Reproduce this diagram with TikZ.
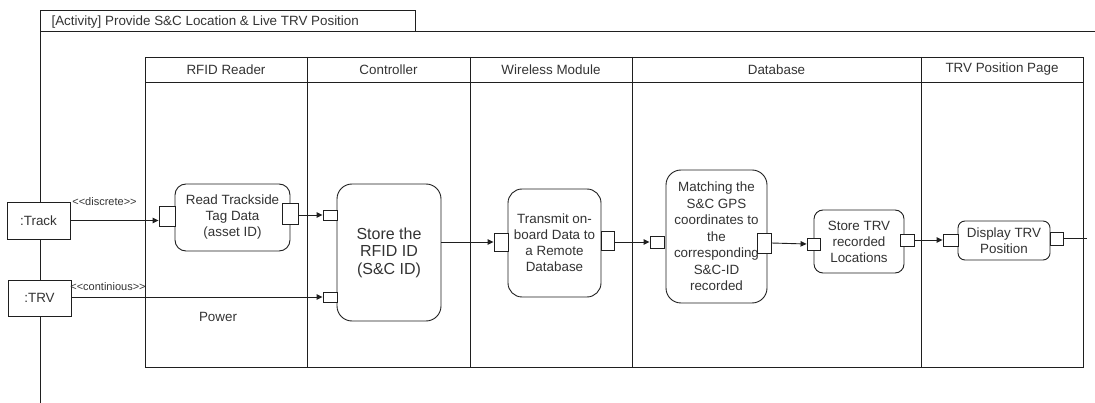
\documentclass[tikz,border=0pt]{standalone}
\usepackage{fontspec}
\setmainfont{Liberation Sans}
\usetikzlibrary{arrows.meta,calc}
\definecolor{ink}{HTML}{333333}
\definecolor{edge}{HTML}{1F1F1F}
\begin{document}
\begin{tikzpicture}[x=1pt,y=-1pt,
  every node/.style={text=ink, font=\fontsize{13.4}{16}\selectfont},
  frameline/.style={draw=edge, line width=0.9pt},
  action/.style={draw=edge, fill=white, line width=0.9pt, align=center,
    inner sep=0pt, rounded corners=#1},
  action/.default=10pt,
  pin/.style={draw=edge, fill=white, line width=0.9pt, inner sep=0pt},
  part/.style={draw=edge, fill=white, line width=0.9pt, inner sep=0pt,
    minimum width=63pt},
  flow/.style={draw=edge, line width=0.9pt, -{Triangle[length=6pt,width=5.5pt]}},
  plain/.style={draw=edge, line width=0.9pt},
  stereo/.style={font=\fontsize{11}{13}\selectfont},
  lanehead/.style={font=\fontsize{13.4}{16}\selectfont}]
\useasboundingbox (0,0) rectangle (1095,403);

% activity frame with its name tab
\draw[frameline] (40,403) -- (40,10) -- (415,10) -- (415,31.5);
\draw[frameline] (40,31.5) -- (1095,31.5);
\node[anchor=west] (title) at (48,22) {[Activity] Provide S\&C Location \& Live TRV Position};

% swimlanes
\draw[frameline] (145,57) rectangle (1083,367);
\draw[frameline] (145,82) -- (1083,82);
\foreach \x in {307,470,632,921} \draw[frameline] (\x,57) -- (\x,367);
\node[lanehead] (laneA) at (226,69.5) {RFID Reader};
\node[lanehead] (laneB) at (388.5,69.5) {Controller};
\node[lanehead] (laneC) at (551,69.5) {Wireless Module};
\node[lanehead] (laneD) at (776.5,69.5) {Database};
\node[lanehead] (laneE) at (1002,69.5) {TRV Position Page};

% external parts sitting on the frame border
\node[part, minimum height=37pt] (track) at (38.5,220.5) {:Track};
\node[part, minimum height=36pt] (trv) at (39.5,298) {:TRV};

% actions
\node[action=11pt, minimum width=115pt, minimum height=67pt] (read) at (232.5,217.5)
  {Read Trackside\\Tag Data\\(asset ID)};
\node[action=15pt, minimum width=104pt, minimum height=137pt,
  font=\fontsize{16}{17.5}\selectfont] (store) at (389,252.5)
  {Store the\\RFID ID\\(S\&C ID)};
\node[action=14pt, minimum width=93pt, minimum height=108pt] (transmit) at (554.5,243)
  {Transmit on-\\board Data to\\a Remote\\Database};
\node[action=15pt, minimum width=101pt, minimum height=133pt,
  font=\fontsize{13.4}{16.5}\selectfont] (match) at (716.5,236.5)
  {Matching the\\S\&C GPS\\coordinates to\\the\\corresponding\\S\&C-ID\\recorded};
\node[action=9pt, minimum width=90pt, minimum height=63pt] (storetrv) at (859,241.5)
  {Store TRV\\recorded\\Locations};
\node[action=7pt, minimum width=92pt, minimum height=39pt] (display) at (1004,240.5)
  {Display TRV\\Position};

% pins
\node[pin, minimum width=16pt, minimum height=20pt] (readIn) at (167,216) {};
\node[pin, minimum width=16pt, minimum height=21pt] (readOut) at (290,213.5) {};
\node[pin, minimum width=14pt, minimum height=10pt] (storeInA) at (330,215) {};
\node[pin, minimum width=14pt, minimum height=10pt] (storeInB) at (330,297) {};
\node[pin, minimum width=14pt, minimum height=18pt] (transmitIn) at (501,242) {};
\node[pin, minimum width=13pt, minimum height=19pt] (transmitOut) at (607.5,240.5) {};
\node[pin, minimum width=14pt, minimum height=12pt] (matchIn) at (657,242) {};
\node[pin, minimum width=14pt, minimum height=20pt] (matchOut) at (764,243) {};
\node[pin, minimum width=13pt, minimum height=12pt] (storetrvIn) at (813.5,244) {};
\node[pin, minimum width=14pt, minimum height=12pt] (storetrvOut) at (907,240) {};
\node[pin, minimum width=15pt, minimum height=12pt] (displayIn) at (950.5,240) {};
\node[pin, minimum width=13pt, minimum height=13pt] (displayOut) at (1056.5,238.5) {};
\coordinate (tail) at (1087,238.5);

% flows
\draw[flow] (track.east) -- (track.east -| readIn.west);
\node[stereo] (discrete) at (104.5,202) {<{}<discrete>{}>};
\draw[flow] (trv.east |- storeInB.west) -- (storeInB.west);
\node[stereo] (continuous) at (108,287) {<{}<continious>{}>};
\node (power) at (218,317) {Power};
\draw[flow] (readOut.east |- storeInA.west) -- (storeInA.west);
\draw[flow] (store.east |- transmitIn.west) -- (transmitIn.west);
\draw[flow] (transmitOut.east |- matchIn.west) -- (matchIn.west);
\draw[flow] (matchOut.east) -- (storetrvIn.west);
\draw[flow] (storetrvOut.east) -- (displayIn.west);
\draw[plain] (displayOut.east) -- (tail);
\end{tikzpicture}
\end{document}
